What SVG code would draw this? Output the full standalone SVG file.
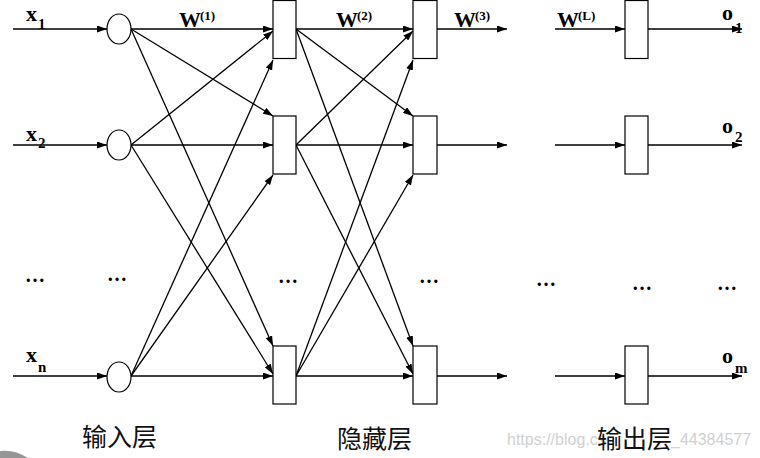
<svg xmlns="http://www.w3.org/2000/svg" width="760" height="458" viewBox="0 0 760 458">
<style>
.ln{stroke:#000;stroke-width:1.3;fill:none;marker-end:url(#ah)}
.nd{fill:#fff;stroke:#000;stroke-width:1.2}
.lb{font-family:"Liberation Serif","Times New Roman",serif;font-weight:bold;fill:#000}
.v{font-size:22px}
.w{font-size:22px}
.s{font-size:15px}
.sup{font-size:13px}
.cn{font-family:"Noto Sans CJK SC","Noto Sans",sans-serif;font-size:25px;fill:#111}
.dots{font-family:"Liberation Serif",serif;font-weight:bold;font-size:20px;fill:#000}
.wm{font-family:"Liberation Sans",Arial,sans-serif;font-size:16px;fill:#d0d0d0}
</style>
<defs>
<marker id="ah" viewBox="0 0 10 7" refX="10" refY="3.5" markerWidth="10" markerHeight="7" markerUnits="userSpaceOnUse" orient="auto">
<path d="M0,0 L10,3.5 L0,7 z" fill="#000"/>
</marker>
</defs>
<rect width="760" height="458" fill="#fff"/>
<path d="M0,451 Q14,449 28,458 L0,458 Z" fill="#6a6a6a" opacity="0.7"/>
<text class="wm" x="507" y="445">https://blog.cs</text>
<text class="wm" x="671" y="445">_44384577</text>

<g id="connectors">
<line class="ln" x1="13" y1="29" x2="107" y2="29"/>
<line class="ln" x1="13" y1="145" x2="107" y2="145"/>
<line class="ln" x1="13" y1="376" x2="107" y2="376"/>
<line class="ln" x1="131" y1="29" x2="273" y2="29"/>
<line class="ln" x1="131" y1="145" x2="273" y2="31"/>
<line class="ln" x1="131" y1="376" x2="273" y2="60"/>
<line class="ln" x1="131" y1="29" x2="273" y2="116"/>
<line class="ln" x1="131" y1="145" x2="273" y2="145"/>
<line class="ln" x1="131" y1="376" x2="273" y2="175"/>
<line class="ln" x1="131" y1="29" x2="273" y2="346"/>
<line class="ln" x1="131" y1="145" x2="273" y2="374"/>
<line class="ln" x1="131" y1="376" x2="273" y2="376"/>
<line class="ln" x1="296" y1="29" x2="413" y2="29"/>
<line class="ln" x1="296" y1="145" x2="413" y2="31"/>
<line class="ln" x1="296" y1="376" x2="413" y2="60"/>
<line class="ln" x1="296" y1="29" x2="413" y2="116"/>
<line class="ln" x1="296" y1="145" x2="413" y2="145"/>
<line class="ln" x1="296" y1="376" x2="413" y2="175"/>
<line class="ln" x1="296" y1="29" x2="413" y2="346"/>
<line class="ln" x1="296" y1="145" x2="413" y2="374"/>
<line class="ln" x1="296" y1="376" x2="413" y2="376"/>
<line class="ln" x1="437" y1="29" x2="507" y2="29"/>
<line class="ln" x1="437" y1="145" x2="507" y2="145"/>
<line class="ln" x1="437" y1="376" x2="507" y2="376"/>
<line class="ln" x1="555" y1="29" x2="625" y2="29"/>
<line class="ln" x1="555" y1="145" x2="625" y2="145"/>
<line class="ln" x1="555" y1="376" x2="625" y2="376"/>
<line class="ln" x1="648" y1="29" x2="742" y2="29"/>
<line class="ln" x1="648" y1="145" x2="742" y2="145"/>
<line class="ln" x1="648" y1="376" x2="742" y2="376"/>
</g>

<g id="in1"><ellipse class="nd" cx="119" cy="29" rx="12" ry="15"/></g>
<g id="in2"><ellipse class="nd" cx="119" cy="145" rx="12" ry="15"/></g>
<g id="inn"><ellipse class="nd" cx="119" cy="377" rx="12" ry="15"/></g>

<g id="h1a"><rect class="nd" x="273" y="0.5" width="23" height="58"/></g>
<g id="h1b"><rect class="nd" x="273" y="116" width="23" height="58"/></g>
<g id="h1c"><rect class="nd" x="273" y="346" width="23" height="58"/></g>

<g id="h2a"><rect class="nd" x="413" y="0.5" width="24" height="58"/></g>
<g id="h2b"><rect class="nd" x="413" y="116" width="24" height="58"/></g>
<g id="h2c"><rect class="nd" x="413" y="346" width="24" height="58"/></g>

<g id="out1"><rect class="nd" x="625" y="0.5" width="23" height="58"/></g>
<g id="out2"><rect class="nd" x="625" y="116" width="23" height="58"/></g>
<g id="outm"><rect class="nd" x="625" y="346" width="23" height="58"/></g>

<g id="labels">
<text class="lb v" x="26" y="21">x</text><text class="lb s" x="38" y="29">1</text>
<text class="lb v" x="26" y="141">x</text><text class="lb s" x="38" y="148">2</text>
<text class="lb v" x="26" y="362">x</text><text class="lb s" x="38" y="372">n</text>

<text class="lb w" x="179" y="27">W</text><text class="lb sup" x="200" y="20">(1)</text>
<text class="lb w" x="336" y="27">W</text><text class="lb sup" x="357" y="20">(2)</text>
<text class="lb w" x="454" y="27">W</text><text class="lb sup" x="475" y="20">(3)</text>
<text class="lb w" x="557" y="27">W</text><text class="lb sup" x="578" y="20">(L)</text>

<text class="lb v" x="722" y="20">o</text><text class="lb s" x="735" y="33">1</text>
<text class="lb v" x="722" y="133">o</text><text class="lb s" x="735" y="142">2</text>
<text class="lb v" x="722" y="363">o</text><text class="lb s" x="735" y="373">m</text>

<text class="dots" x="25" y="282">…</text>
<text class="dots" x="107" y="281">…</text>
<text class="dots" x="278" y="283">…</text>
<text class="dots" x="419" y="283">…</text>
<text class="dots" x="536" y="286">…</text>
<text class="dots" x="632" y="290">…</text>
<text class="dots" x="717" y="290">…</text>

<text class="cn" x="82" y="446">输入层</text>
<text class="cn" x="337" y="448">隐藏层</text>
<text class="cn" x="597" y="448">输出层</text>
</g>
</svg>
